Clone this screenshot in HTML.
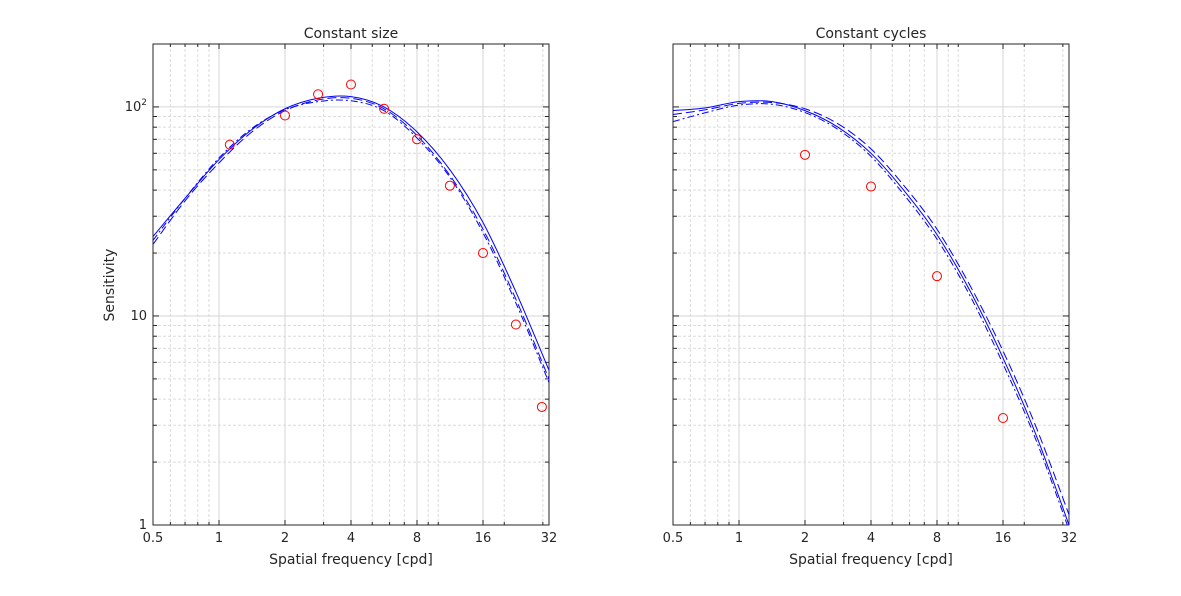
<!DOCTYPE html>
<html><head><meta charset="utf-8"><style>
body{margin:0;background:#fff;font-family:"Liberation Sans",sans-serif}
svg text{font-family:"DejaVu Sans","Liberation Sans",sans-serif;font-size:13px;fill:#262626}
</style></head><body>
<svg id="c" width="1181" height="591"></svg>
<script>
const freqs=[0.5,0.707,1,1.414,2,2.828,4,5.657,8,11.31,16,22.63,32];
const leftSolid=[24,37,56,78,98,110,112,100,76,50,28,13,5.5];
const leftDashed=[22,36,54,76,96,108,110,98,73,47,26,12,5.0];
const leftDashdot=[23,37,57,79,97,106,107,96,71,46,25,11.5,4.8];
const rightSolid=[96,99,106,106,96,80,60,39.8,24.5,13.2,6.3,2.7,1.0];
const rightDashed=[92,97,104,105,98,83,63,42,26,14,6.8,2.95,1.12];
const rightDashdot=[85,94,102,103,94,78,58,38,23.3,12.5,5.9,2.55,0.95];
const leftPtsX=[1.12,2,2.83,4,5.66,8,11.3,16,22.6,29.7];
const leftPtsY=[66,91,115,128,98,70,42,20,9.1,3.67];
const rightPtsX=[2,4,8,16];
const rightPtsY=[59,41.6,15.5,3.25];
const xTicks=[0.5,1,2,4,8,16,32];
const xTickLabels=["0.5","1","2","4","8","16","32"];
const xMinor=[0.6,0.7,0.8,0.9,3,5,6,7,9,10,20,30];
const yTicks=[1,10,100];
const NS="http://www.w3.org/2000/svg";
const svg=document.getElementById('c');
function mk(t,a,p){const e=document.createElementNS(NS,t);for(const k in a)e.setAttribute(k,a[k]);(p||svg).appendChild(e);return e;}
const Y0=525,Y1=44,YMAX=Math.log10(200);
function panel(x0,x1,title,series,px,py,showY,name){
  const g=mk('g',{});
  
  
  const sx=v=>x0+(Math.log2(v/0.5))/6*(x1-x0);
  const sy=v=>Y0-Math.log10(v)/YMAX*(Y0-Y1);
  xMinor.forEach(v=>{
    mk('line',{x1:sx(v),x2:sx(v),y1:Y1,y2:Y0,stroke:'#dcdcdc','stroke-dasharray':'3,2','stroke-width':1},g);
    mk('line',{x1:sx(v),x2:sx(v),y1:Y0-3,y2:Y0,stroke:'#262626'},g);mk('line',{x1:sx(v),x2:sx(v),y1:Y1,y2:Y1+3,stroke:'#262626'},g);});
  [1,10,100].forEach(b=>{for(let m=2;m<10;m++){const v=b*m;if(v>=200)continue;
    mk('line',{x1:x0,x2:x1,y1:sy(v),y2:sy(v),stroke:'#dcdcdc','stroke-dasharray':'3,2','stroke-width':1},g);
    mk('line',{x1:x0,x2:x0+4,y1:sy(v),y2:sy(v),stroke:'#262626'},g);mk('line',{x1:x1-4,x2:x1,y1:sy(v),y2:sy(v),stroke:'#262626'},g);}});
  xTicks.forEach((v,i)=>{mk('line',{x1:sx(v),x2:sx(v),y1:Y1,y2:Y0,stroke:'#d6d6d6'},g);
    mk('line',{x1:sx(v),x2:sx(v),y1:Y0-5,y2:Y0,stroke:'#262626'},g);mk('line',{x1:sx(v),x2:sx(v),y1:Y1,y2:Y1+5,stroke:'#262626'},g);
    const t=mk('text',{x:sx(v),y:Y0+17,'text-anchor':'middle'},g);t.textContent=xTickLabels[i];
    
    });
  yTicks.forEach(v=>{mk('line',{x1:x0,x2:x1,y1:sy(v),y2:sy(v),stroke:'#d6d6d6'},g);
    mk('line',{x1:x0,x2:x0+6,y1:sy(v),y2:sy(v),stroke:'#262626'},g);mk('line',{x1:x1-6,x2:x1,y1:sy(v),y2:sy(v),stroke:'#262626'},g);
    if(showY){const t=mk('text',{x:x0-6,y:sy(v)+4,'text-anchor':'end'},g);
      if(v===100){t.innerHTML='10<tspan dy="-6" font-size="9">2</tspan>';}else t.textContent=String(v);
      
      }});
  mk('rect',{x:x0,y:Y1,width:x1-x0,height:Y0-Y1,fill:'none',stroke:'#262626','stroke-width':1},g);
  const cp=mk('clipPath',{id:'cl'+name},g);mk('rect',{x:x0,y:Y1,width:x1-x0,height:Y0-Y1},cp);
  const dashes=['', '9,4', '7,3,2,3'];
  series.forEach((s,si)=>{
    const pts=freqs.map((f,i)=>[sx(f),sy(s[i])]);
    let d='M'+pts[0][0]+','+pts[0][1];
    for(let i=0;i<pts.length-1;i++){const p0=pts[Math.max(0,i-1)],p1=pts[i],p2=pts[i+1],p3=pts[Math.min(pts.length-1,i+2)];
      d+=` C${p1[0]+(p2[0]-p0[0])/6},${p1[1]+(p2[1]-p0[1])/6} ${p2[0]-(p3[0]-p1[0])/6},${p2[1]-(p3[1]-p1[1])/6} ${p2[0]},${p2[1]}`;}
    const p=mk('path',{d:d,fill:'none',stroke:'#0000ff','stroke-width':1,'stroke-dasharray':dashes[si],'clip-path':`url(#cl${name})`},g);
    
    
  });
  px.forEach((v,i)=>{const c=mk('circle',{cx:sx(v),cy:sy(py[i]),r:4.5,fill:'none',stroke:'#ff0000','stroke-width':1},g);
    
    });
  const t=mk('text',{x:(x0+x1)/2,y:38,'text-anchor':'middle'},g);t.textContent=title;t.style.fontSize='14px';
  
  
  const xl=mk('text',{x:(x0+x1)/2,y:564,'text-anchor':'middle'},g);xl.textContent='Spatial frequency [cpd]';xl.style.fontSize='14px';
  
  
  if(showY){const yl=mk('text',{x:114,y:285,'text-anchor':'middle',transform:'rotate(-90 114 285)'},g);yl.textContent='Sensitivity';yl.style.fontSize='14px';
    
    }
}
panel(153,549,'Constant size',[leftSolid,leftDashed,leftDashdot],leftPtsX,leftPtsY,true,'left-panel');
panel(673,1069,'Constant cycles',[rightSolid,rightDashed,rightDashdot],rightPtsX,rightPtsY,false,'right-panel');
</script>
</body></html>
